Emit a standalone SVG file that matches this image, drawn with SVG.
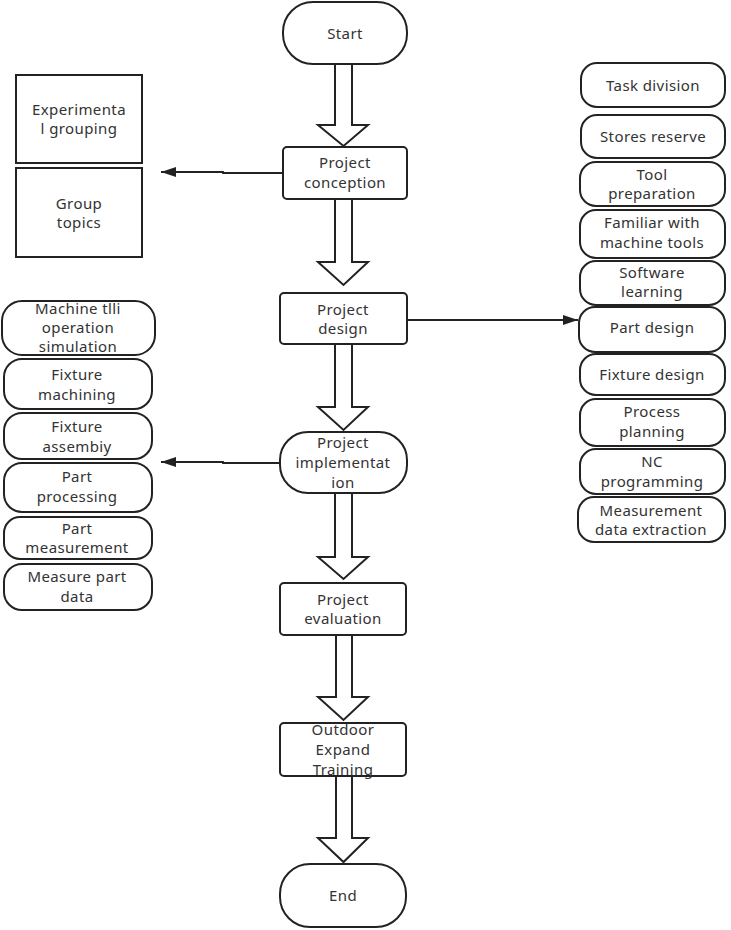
<svg xmlns="http://www.w3.org/2000/svg" width="731" height="930" viewBox="0 0 731 930">
<style>
.b{fill:#fff;stroke:#222;stroke-width:2}
.t{font-family:"Noto Sans","Open Sans",sans-serif;font-size:15px;letter-spacing:0.4px;fill:#333;text-anchor:middle}
.ba{fill:#fff;stroke:#222;stroke-width:2;stroke-linejoin:miter}
.c{fill:none;stroke:#222;stroke-width:1.8}
</style>
<defs>
<marker id="ah" viewBox="0 0 15 10" refX="15" refY="5" markerWidth="15" markerHeight="10" markerUnits="userSpaceOnUse" orient="auto"><path d="M0,0L15,5L0,10z" fill="#222"/></marker>
</defs>
<rect width="731" height="930" fill="#fff"/>
<g id="connectors">
<polygon class="ba" points="335,64 352,64 352,125 368,125 343.5,146 318,125 335,125"/>
<polygon class="ba" points="335,199 352,199 352,262 368,262 343.5,285 318,262 335,262"/>
<polygon class="ba" points="335,344 352,344 352,407 368,407 343.5,430 318,407 335,407"/>
<polygon class="ba" points="335,493 352,493 352,557 368,557 343.5,579 318,557 335,557"/>
<polygon class="ba" points="336,635 352,635 352,697 368,697 343.5,720 318,697 336,697"/>
<polygon class="ba" points="336,776 352,776 352,838 368,838 343.5,862 318,838 336,838"/>
<path class="c" d="M283,173H223V172H161" marker-end="url(#ah)"/>
<path class="c" d="M407,320H578" marker-end="url(#ah)"/>
<path class="c" d="M279,463H223V462H161" marker-end="url(#ah)"/>
</g>
<g id="start"><rect class="b" x="283" y="2" width="124" height="62" rx="30"/><text class="t" x="345" y="39">Start</text></g>
<g id="conception"><rect class="b" x="283" y="147" width="124" height="52" rx="4"/><text class="t" x="345" y="168">Project</text><text class="t" x="345" y="188">conception</text></g>
<g id="design"><rect class="b" x="280" y="293" width="127" height="51" rx="4"/><text class="t" x="343" y="315">Project</text><text class="t" x="343" y="334">design</text></g>
<g id="implementation"><rect class="b" x="280" y="432" width="127" height="61" rx="28"/><text class="t" x="343" y="448">Project</text><text class="t" x="343" y="468">implementat</text><text class="t" x="343" y="488">ion</text></g>
<g id="evaluation"><rect class="b" x="280" y="583" width="126" height="52" rx="4"/><text class="t" x="343" y="605">Project</text><text class="t" x="343" y="624">evaluation</text></g>
<g id="outdoor"><rect class="b" x="280" y="723" width="126" height="53" rx="4"/><text class="t" x="343" y="735">Outdoor</text><text class="t" x="343" y="755">Expand</text><text class="t" x="343" y="775">Training</text></g>
<g id="end"><rect class="b" x="280" y="864" width="126" height="63" rx="30"/><text class="t" x="343" y="901">End</text></g>

<g id="exp-grouping"><rect class="b" x="16" y="75" width="126" height="88"/><text class="t" x="79" y="115">Experimenta</text><text class="t" x="79" y="134">l grouping</text></g>
<g id="group-topics"><rect class="b" x="16" y="168" width="126" height="89"/><text class="t" x="79" y="209">Group</text><text class="t" x="79" y="228">topics</text></g>

<g id="task-division"><rect class="b" x="581" y="63" width="144" height="44" rx="16"/><text class="t" x="653" y="91">Task division</text></g>
<g id="stores-reserve"><rect class="b" x="581" y="115" width="144" height="43" rx="16"/><text class="t" x="653" y="142">Stores reserve</text></g>
<g id="tool-prep"><rect class="b" x="580" y="162" width="145" height="44" rx="16"/><text class="t" x="652" y="180">Tool</text><text class="t" x="652" y="199">preparation</text></g>
<g id="familiar"><rect class="b" x="580" y="210" width="145" height="48" rx="16"/><text class="t" x="652" y="228">Familiar with</text><text class="t" x="652" y="248">machine tools</text></g>
<g id="software"><rect class="b" x="580" y="261" width="145" height="44" rx="16"/><text class="t" x="652" y="278">Software</text><text class="t" x="652" y="297">learning</text></g>
<g id="part-design"><rect class="b" x="579" y="307" width="146" height="45" rx="16"/><text class="t" x="652" y="333">Part design</text></g>
<g id="fixture-design"><rect class="b" x="580" y="354" width="145" height="41" rx="16"/><text class="t" x="652" y="380">Fixture design</text></g>
<g id="process-planning"><rect class="b" x="580" y="399" width="145" height="47" rx="16"/><text class="t" x="652" y="417">Process</text><text class="t" x="652" y="437">planning</text></g>
<g id="nc-programming"><rect class="b" x="580" y="449" width="145" height="45" rx="16"/><text class="t" x="652" y="467">NC</text><text class="t" x="652" y="487">programming</text></g>
<g id="measurement-extraction"><rect class="b" x="578" y="497" width="147" height="45" rx="16"/><text class="t" x="651" y="516">Measurement</text><text class="t" x="651" y="535">data extraction</text></g>

<g id="machine-sim"><rect class="b" x="2" y="301" width="153" height="54" rx="20"/><text class="t" x="78" y="314">Machine tlli</text><text class="t" x="78" y="333">operation</text><text class="t" x="78" y="352">simulation</text></g>
<g id="fixture-machining"><rect class="b" x="4" y="359" width="148" height="50" rx="18"/><text class="t" x="77" y="380">Fixture</text><text class="t" x="77" y="400">machining</text></g>
<g id="fixture-assembly"><rect class="b" x="4" y="413" width="148" height="46" rx="18"/><text class="t" x="77" y="432">Fixture</text><text class="t" x="77" y="452">assembiy</text></g>
<g id="part-processing"><rect class="b" x="4" y="463" width="148" height="49" rx="18"/><text class="t" x="77" y="482">Part</text><text class="t" x="77" y="502">processing</text></g>
<g id="part-measurement"><rect class="b" x="4" y="517" width="148" height="42" rx="16"/><text class="t" x="77" y="534">Part</text><text class="t" x="77" y="553">measurement</text></g>
<g id="measure-data"><rect class="b" x="4" y="564" width="148" height="46" rx="18"/><text class="t" x="77" y="582">Measure part</text><text class="t" x="77" y="602">data</text></g>
</svg>
